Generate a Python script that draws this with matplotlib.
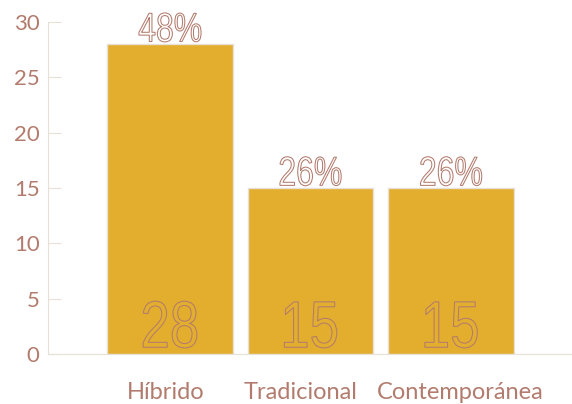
import matplotlib
matplotlib.use('Agg')
import matplotlib.pyplot as plt
import matplotlib.transforms as mtransforms
from matplotlib.textpath import TextPath
from matplotlib.patches import PathPatch
from matplotlib.font_manager import FontProperties

categories = ['Híbrido', 'Tradicional', 'Contemporánea']
counts = [28, 15, 15]
percents = ['48%', '26%', '26%']
y_ticks = [0, 5, 10, 15, 20, 25, 30]

gold = '#E3AE2E'
brown = '#B27B6D'
light = '#E6E0D6'

plt.rcParams['font.family'] = ['Lato', 'DejaVu Sans']
narrow_prop = FontProperties(family='Liberation Sans')

fig = plt.figure(figsize=(5.72, 4.04), dpi=100)
ax = fig.add_axes([48 / 572, 50 / 404, 1 - 48 / 572, 332 / 404])


def outlined_text(s, xd, yd, size_px, fill, squeeze=0.78, lw=0.75):
	# condensed outlined text, drawn as a path so it can be squeezed horizontally
	tp = TextPath((0, 0), s, size=size_px, prop=narrow_prop)
	bb = tp.get_extents()
	cx = (bb.x0 + bb.x1) / 2
	tr = (mtransforms.Affine2D().translate(-cx, -bb.y0).scale(squeeze, 1)
		  + mtransforms.ScaledTranslation(xd, yd, ax.transData))
	ax.add_patch(PathPatch(tp, transform=tr, facecolor=fill, edgecolor=brown,
						   linewidth=lw, zorder=5, clip_on=False))


x = list(range(len(categories)))
ax.bar(x, counts, width=0.895, color=gold, edgecolor=light, linewidth=1)

for xi, c, p in zip(x, counts, percents):
	outlined_text(p, xi, c + 0.2, 41, 'white', squeeze=0.78)
	outlined_text(str(c), xi, 0.55, 66, gold, squeeze=0.8)

ax.set_xlim(-0.868, 2.86)
ax.set_ylim(0, 30)
ax.set_yticks(y_ticks)
ax.set_xticks(x)
ax.set_xticklabels(categories)

ax.tick_params(axis='y', direction='in', length=9, color=light, labelcolor=brown, labelsize=16, pad=6)
ax.tick_params(axis='x', length=0, labelcolor=brown, labelsize=17, pad=20)

# labels sit a little off-centre in the original so the long ones don't collide
shifts = [-4, -10, 9]
for lbl, dx in zip(ax.get_xticklabels(), shifts):
	lbl.set_transform(lbl.get_transform() + mtransforms.Affine2D().translate(dx, 0))

for side in ['top', 'right']:
	ax.spines[side].set_visible(False)
ax.spines['left'].set_color(light)
ax.spines['bottom'].set_color(light)

fig.savefig('out.png', dpi=100)
